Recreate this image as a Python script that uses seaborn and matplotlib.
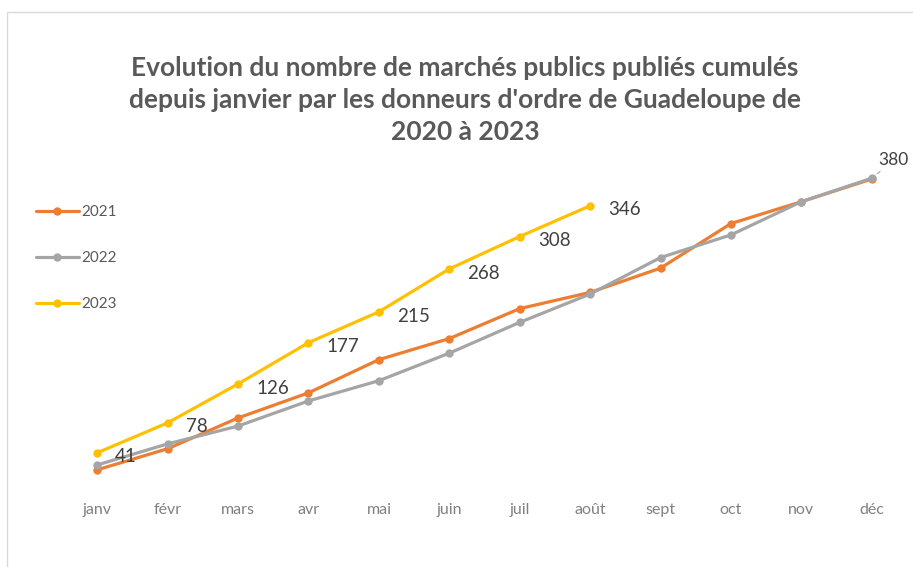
import matplotlib
matplotlib.use("Agg")
import matplotlib.pyplot as plt
import numpy as np
import pandas as pd
import seaborn as sns

# months (x axis categories)
months = ['janv', 'févr', 'mars', 'avr', 'mai', 'juin',
          'juil', 'août', 'sept', 'oct', 'nov', 'déc']

# cumulated number of published contracts per year
values_2021 = [20, 46, 84, 115, 156, 182, 219, 239, 269, 324, 351, 379]
values_2022 = [26, 52, 74, 105, 130, 164, 202, 237, 282, 310, 351, 380]
values_2023 = [41, 78, 126, 177, 215, 268, 308, 346]

years = ['2021', '2022', '2023']
colors = ['#ED7D31', '#A5A5A5', '#FFC000']

title = ("Evolution du nombre de marchés publics publiés cumulés\n"
         "depuis janvier par les donneurs d'ordre de Guadeloupe de\n"
         "2020 à 2023")

# long table for seaborn
rows = []
for year, vals in zip(years, [values_2021, values_2022, values_2023]):
    for i, v in enumerate(vals):
        rows.append({'mois': i, 'valeur': v, 'annee': year})
df = pd.DataFrame(rows)

sns.set_theme(style='white')
plt.rcParams['font.family'] = ['Lato', 'DejaVu Sans']

W, H = 913, 567
fig = plt.figure(figsize=(W / 100, H / 100), dpi=100)
ax = fig.add_axes([62 / W, 1 - 486 / H, 845 / W, 324 / H])

sns.lineplot(data=df, x='mois', y='valeur', hue='annee', palette=colors,
             marker='o', markersize=6, markeredgewidth=0, linewidth=2.3,
             ax=ax, legend=True)

ax.set_xlim(-0.5, 11.5)
ax.set_ylim(0, 400)
ax.set_xticks(range(len(months)))
ax.set_xticklabels(months, fontsize=11.5, color='#808080')
ax.tick_params(axis='x', length=0, pad=12)
ax.set_yticks([])
ax.set_xlabel('')
ax.set_ylabel('')
for s in ax.spines.values():
    s.set_visible(False)

# data labels on 2023
for i, v in enumerate(values_2023):
    ax.annotate(str(v), (i, v), xytext=(13, -3), textcoords='offset points',
                ha='left', va='center', fontsize=13.5, color='#404040')

# label on last 2022 point with leader line (kept inside the figure)
ax.annotate(str(values_2022[-1]), (11, values_2022[-1]), xytext=(5, 13),
            textcoords='offset points', ha='left', va='center', fontsize=12.5,
            color='#404040', annotation_clip=False,
            arrowprops=dict(arrowstyle='-', color='#a6a6a6', lw=0.8,
                            shrinkA=0, shrinkB=5))

leg = ax.legend(loc='upper left', bbox_to_anchor=(36 / W, 1 - 205 / H),
                bbox_transform=fig.transFigure, frameon=False, fontsize=11,
                handlelength=2.8, handletextpad=0.15, labelspacing=2.1,
                borderpad=0, borderaxespad=0)
for t in leg.get_texts():
    t.set_color('#595959')

fig.text(465 / W, 1 - 100 / H, title, ha='center', va='center',
         fontsize=19, fontweight='bold', color='#595959', linespacing=1.42)

# light chart border
fig.patches.append(plt.Rectangle((7 / W, -0.1), 1.2, 1 - 12 / H + 0.1,
                                 transform=fig.transFigure, fill=False,
                                 edgecolor='#d9d9d9', lw=1))

fig.savefig('out.png', dpi=100)
